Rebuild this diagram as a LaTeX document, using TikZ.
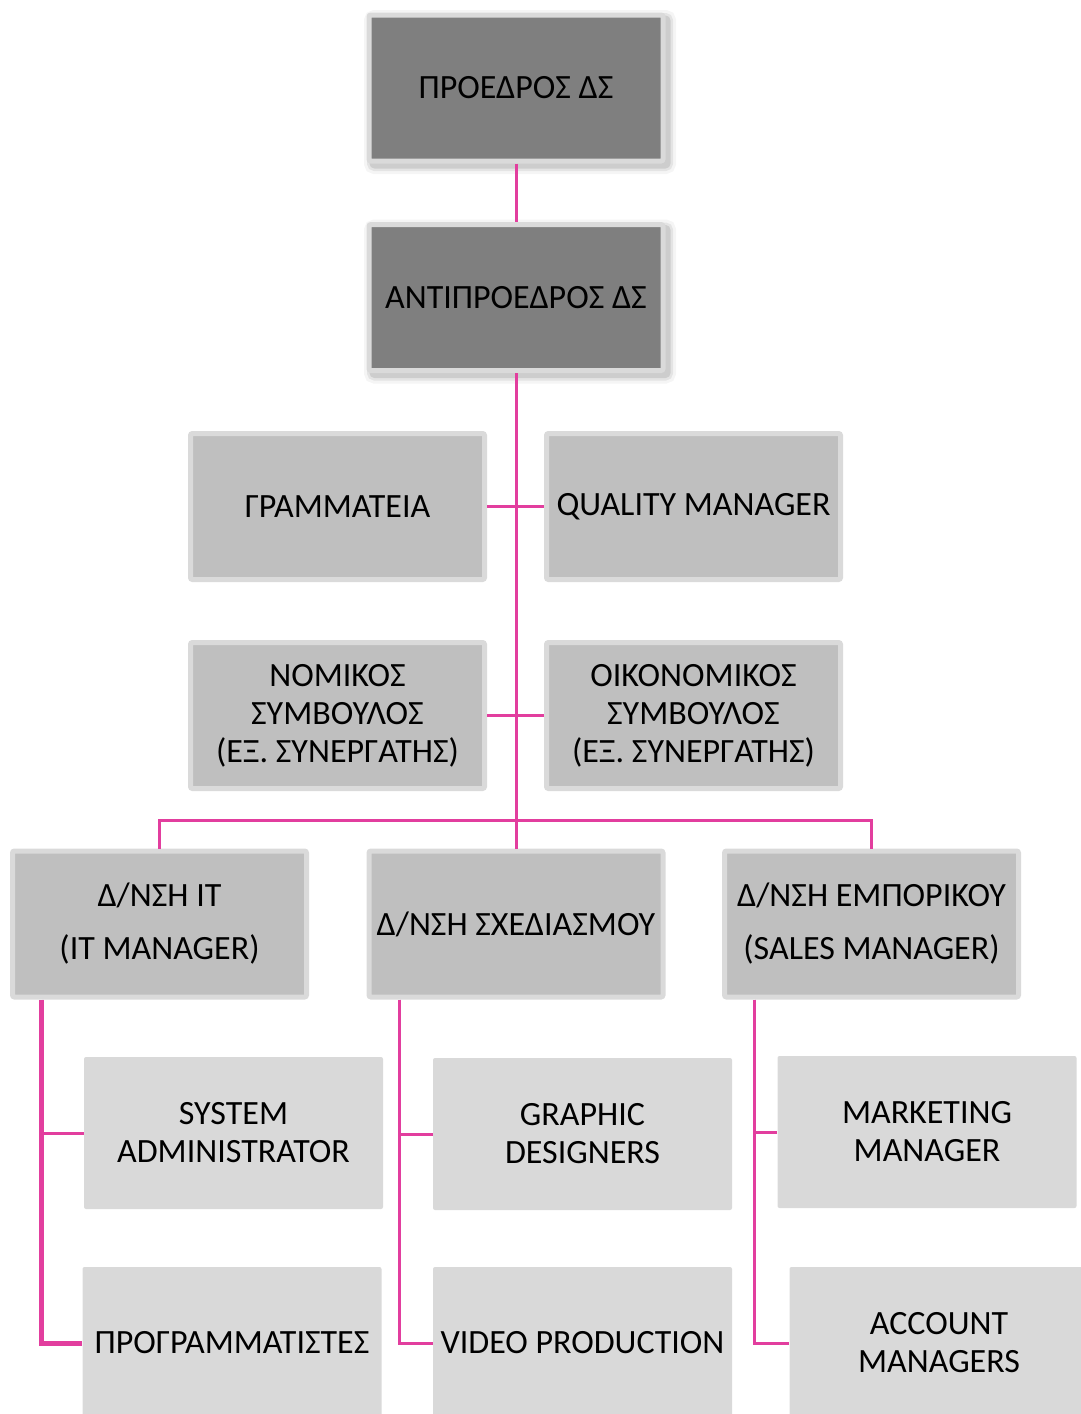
\documentclass[tikz,border=0pt]{standalone}
\usepackage{fontspec}
\setmainfont{Carlito}
\definecolor{linkpink}{RGB}{226,62,158}
\definecolor{rimgray}{RGB}{218,218,218}
\definecolor{darkfill}{RGB}{127,127,127}
\definecolor{midfill}{RGB}{191,191,191}
\definecolor{leaffill}{RGB}{217,217,217}
\begin{document}
\begin{tikzpicture}[x=1pt,y=-1pt,
  every node/.style={font=\fontsize{34}{38}\selectfont, align=center, inner sep=0pt, text=black},
  rimbox/.style={draw=rimgray, line width=5pt, rounded corners=2pt,
    minimum width=294pt, minimum height=146pt},
  headbox/.style={rimbox, fill=darkfill,
    preaction={draw=black, draw opacity=0.04, line width=18pt, transform canvas={shift={(4pt,-4pt)}}},
    preaction={draw=black, draw opacity=0.07, line width=12pt, transform canvas={shift={(4pt,-4pt)}}},
    preaction={draw=black, draw opacity=0.10, line width=7pt, transform canvas={shift={(4pt,-4pt)}}}},
  unitbox/.style={rimbox, fill=midfill},
  leafbox/.style={fill=leaffill, rounded corners=2pt, minimum width=299pt, minimum height=152pt},
  link/.style={draw=linkpink, line width=3pt},
  boldlink/.style={draw=linkpink, line width=5pt}]
\useasboundingbox (0,0) rectangle (1081,1414);

% board
\node[headbox] (pres) at (516,88) {ΠΡΟΕΔΡΟΣ ΔΣ};
\node[headbox] (vice) at (516,297.5) {ΑΝΤΙΠΡΟΕΔΡΟΣ ΔΣ};

% staff functions
\node[unitbox] (secr) at (337.5,506.5) {ΓΡΑΜΜΑΤΕΙΑ};
\node[unitbox] (qual) at (693.5,506.5) {QUALITY MANAGER};
\node[unitbox] (legal) at (337.5,715.5) {ΝΟΜΙΚΟΣ\\ΣΥΜΒΟΥΛΟΣ\\(ΕΞ. ΣΥΝΕΡΓΑΤΗΣ)};
\node[unitbox] (fin) at (693.5,715.5) {ΟΙΚΟΝΟΜΙΚΟΣ\\ΣΥΜΒΟΥΛΟΣ\\(ΕΞ. ΣΥΝΕΡΓΑΤΗΣ)};

% departments
\node[unitbox] (itdep) at (159.5,924) {Δ/ΝΣΗ IT\\[15pt](IT MANAGER)};
\node[unitbox] (design) at (516,924) {Δ/ΝΣΗ ΣΧΕΔΙΑΣΜΟΥ};
\node[unitbox] (sales) at (871.5,924) {Δ/ΝΣΗ ΕΜΠΟΡΙΚΟΥ\\[15pt](SALES MANAGER)};

% teams
\node[leafbox] (sysadm) at (233.5,1133) {SYSTEM\\ADMINISTRATOR};
\node[leafbox] (prog) at (232,1343) {ΠΡΟΓΡΑΜΜΑΤΙΣΤΕΣ};
\node[leafbox] (graph) at (582.5,1134) {GRAPHIC\\DESIGNERS};
\node[leafbox] (video) at (582.5,1343) {VIDEO PRODUCTION};
\node[leafbox] (mkt) at (927,1132) {MARKETING\\MANAGER};
\node[leafbox] (acct) at (939,1343) {ACCOUNT\\MANAGERS};

% connectors
\coordinate (bar) at (516,820);
\draw[link] (pres.south) -- (vice.north);
\draw[link] (vice.south) -- (design.north);
\draw[link] (secr.east) -- (qual.west);
\draw[link] (legal.east) -- (fin.west);
\draw[link] (itdep.north) -- (itdep.north |- bar) -- (sales.north |- bar) -- (sales.north);

\path (itdep.south) ++(-118,0) coordinate (itbus);
\path (design.south) ++(-117,0) coordinate (desbus);
\path (sales.south) ++(-117.5,0) coordinate (salbus);

\draw[link] (itbus) |- (sysadm.west);
\draw[boldlink] (itbus) |- (prog.west);
\draw[link] (desbus) |- (graph.west);
\draw[link] (desbus) |- (video.west);
\draw[link] (salbus) |- (mkt.west);
\draw[link] (salbus) |- (acct.west);
\end{tikzpicture}
\end{document}
